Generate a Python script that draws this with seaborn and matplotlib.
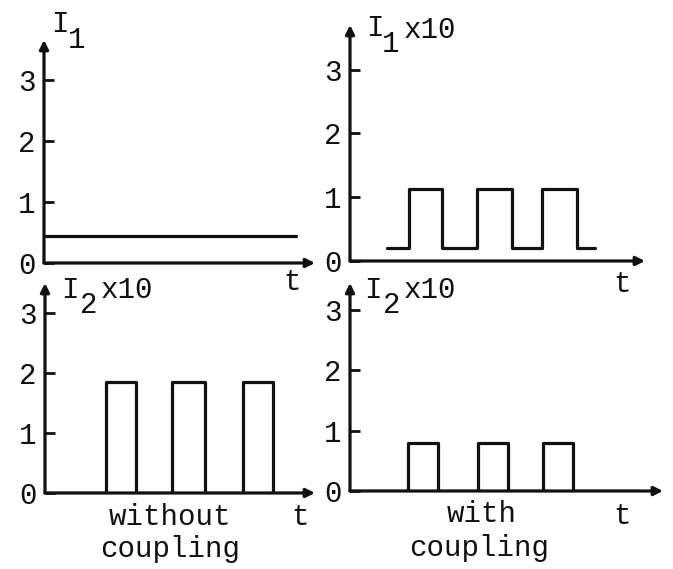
"""
Square-wave currents I1 / I2, without and with coupling (typewriter style figure).
"""

import matplotlib
matplotlib.use("Agg")
import matplotlib.pyplot as plt
import pandas as pd
import seaborn as sns

# ---- data (time in arbitrary units) ----
t_i1_plain = [0.0, 25.2]
i1_plain = [0.44, 0.44]

t_i1_coupled = [3.7, 5.9, 9.2, 12.7, 16.2, 19.2, 22.7, 24.5]
i1_coupled = [0.2, 1.13, 0.2, 1.13, 0.2, 1.13, 0.2, 0.2]

t_i2_plain = [0.0, 6.1, 9.1, 12.7, 16.0, 19.8, 22.8, 26.0]
i2_plain = [0.0, 1.85, 0.0, 1.85, 0.0, 1.85, 0.0, 0.0]

t_i2_coupled = [0.0, 5.8, 8.8, 12.8, 15.8, 19.3, 22.3, 29.0]
i2_coupled = [0.0, 0.8, 0.0, 0.8, 0.0, 0.8, 0.0, 0.0]

y_ticks = [0, 1, 2, 3]

W, H = 673, 569
FONT = "Liberation Mono"
FS = 21
INK = "#111111"


def px_rect(left, right, zero, top):
    """axes rectangle in figure fraction from pixel edges"""
    return [left / W, 1 - zero / H, (right - left) / W, (zero - top) / H]


def ftext(fig, x, y, s, **kw):
    fig.text(x / W, 1 - y / H, s, fontsize=FS, family=FONT, color=INK,
             ha="center", va="center", **kw)


def draw_panel(ax, t, i, xmax, ymax):
    df = pd.DataFrame({"t": t, "I": i})
    sns.lineplot(data=df, x="t", y="I", ax=ax, drawstyle="steps-post",
                 estimator=None, sort=False, color=INK, lw=2.3)
    ax.set_xlim(0, xmax)
    ax.set_ylim(0, ymax)
    for s in ax.spines.values():
        s.set_visible(False)
    arrow = dict(arrowstyle="-|>", lw=2.3, color=INK, mutation_scale=13,
                 shrinkA=0, shrinkB=0)
    ax.annotate("", xy=(xmax, 0), xytext=(0, 0), arrowprops=arrow,
                annotation_clip=False)
    ax.annotate("", xy=(0, ymax), xytext=(0, 0), arrowprops=arrow,
                annotation_clip=False)
    ax.set_xticks([])
    ax.set_yticks(y_ticks)
    ax.set_yticklabels([str(v) for v in y_ticks], family=FONT, fontsize=FS,
                       color=INK)
    ax.tick_params(axis="y", direction="in", length=7, width=2, pad=6,
                   left=True, colors=INK)
    ax.set_xlabel("")
    ax.set_ylabel("")


def main():
    sns.set_theme(style="white")
    fig = plt.figure(figsize=(W / 100, H / 100), dpi=100)

    ax_tl = fig.add_axes(px_rect(44, 315, 263, 40))
    ax_tr = fig.add_axes(px_rect(350, 645, 261, 25))
    ax_bl = fig.add_axes(px_rect(45, 315, 493, 283))
    ax_br = fig.add_axes(px_rect(350, 663, 491, 283))

    draw_panel(ax_tl, t_i1_plain, i1_plain, 27.1, 3.66)
    draw_panel(ax_tr, t_i1_coupled, i1_coupled, 29.5, 3.7)
    draw_panel(ax_bl, t_i2_plain, i2_plain, 27.0, 3.5)
    draw_panel(ax_br, t_i2_coupled, i2_coupled, 31.3, 3.45)

    # axis labels written like on the typewriter: I, lowered subscript, x10
    ftext(fig, 60, 24, "I")
    ftext(fig, 77, 40, "1")
    ftext(fig, 375, 28, "I")
    ftext(fig, 391, 44, "1")
    ftext(fig, 430, 30, "x10")
    ftext(fig, 70, 290, "I")
    ftext(fig, 89, 305, "2")
    ftext(fig, 127, 290, "x10")
    ftext(fig, 373, 290, "I")
    ftext(fig, 392, 305, "2")
    ftext(fig, 430, 290, "x10")

    ftext(fig, 292, 282, "t")
    ftext(fig, 622, 284, "t")
    ftext(fig, 300, 517, "t")
    ftext(fig, 622, 516, "t")

    ftext(fig, 170, 517, "without")
    ftext(fig, 170, 549, "coupling")
    ftext(fig, 482, 514, "with")
    ftext(fig, 479, 548, "coupling")

    fig.savefig("out.png", dpi=100)


if __name__ == "__main__":
    main()
